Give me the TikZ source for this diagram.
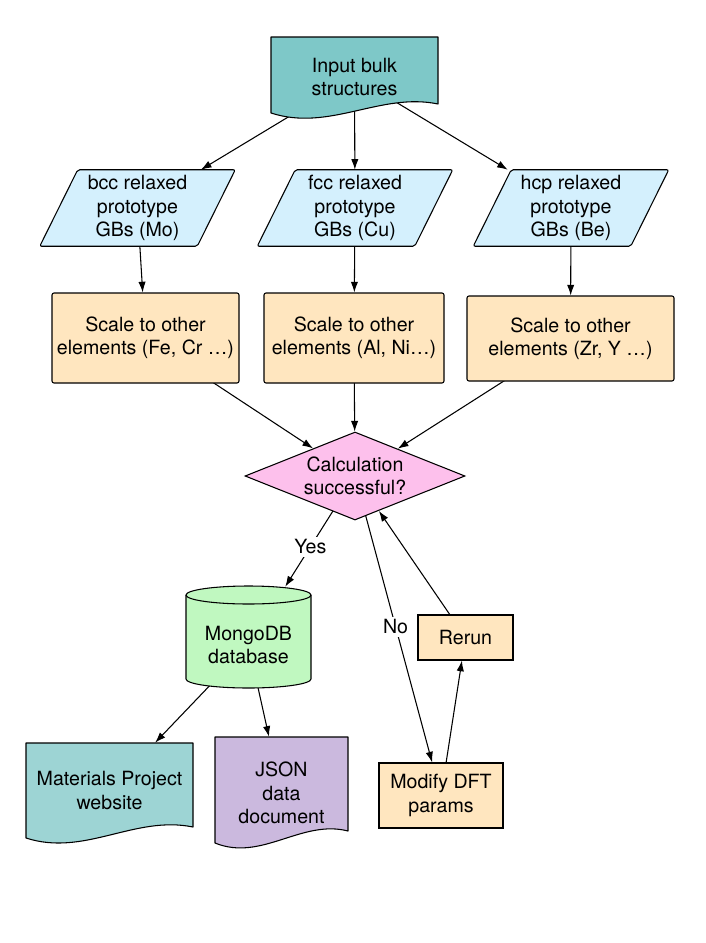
\documentclass[tikz,border=0pt]{standalone}
\usepackage{fontspec}
\setmainfont{TeX Gyre Heros}
\usetikzlibrary{arrows.meta,shapes.geometric}
\pgfdeclarelayer{conn}
\pgfdeclarelayer{shp}
\pgfsetlayers{conn,shp,main}
\definecolor{inpfill}{HTML}{7EC8C8}
\definecolor{parafill}{HTML}{D4F0FD}
\definecolor{procfill}{HTML}{FFE6BF}
\definecolor{decfill}{HTML}{FDC0EC}
\definecolor{dbfill}{HTML}{C0F8C0}
\definecolor{mpfill}{HTML}{9DD4D4}
\definecolor{jsonfill}{HTML}{CBB9DE}
\tikzset{
  txt/.style={font=\fontsize{14.7}{17.4}\selectfont, align=center, inner sep=0pt},
  procbox/.style={txt, rectangle, draw, fill=procfill, line width=0.8pt, rounded corners=1.5pt},
  shapeline/.style={draw, line width=0.8pt, line join=round},
  arr/.style={line width=0.8pt, -{Latex[length=8pt,width=5.5pt]}},
  lbl/.style={txt, fill=white, inner sep=2pt}
}
\begin{document}
\begin{tikzpicture}[x=0.75pt,y=-0.75pt]
\path[use as bounding box] (0,0) rectangle (706,943);
\begin{pgfonlayer}{conn}
\fill[white] (0,0) rectangle (706,943);
\end{pgfonlayer}

% nodes
\node[txt, minimum width=125.25pt, minimum height=59.25pt] (inp) at (354.5,77) {Input bulk\\structures};
\node[txt, minimum width=146.25pt, minimum height=57pt] (bcc) at (137.5,208) {bcc relaxed\\prototype\\GBs (Mo)};
\node[txt, minimum width=146.25pt, minimum height=57pt] (fcc) at (355,208) {fcc relaxed\\prototype\\GBs (Cu)};
\node[txt, minimum width=146.25pt, minimum height=57pt] (hcp) at (571,208) {hcp relaxed\\prototype\\GBs (Be)};
\node[procbox, minimum width=140.25pt, minimum height=67.5pt] (box1) at (145.5,338) {Scale to other\\elements (Fe, Cr …)};
\node[procbox, minimum width=135pt, minimum height=67.5pt] (box2) at (354,338) {Scale to other\\elements (Al, Ni…)};
\node[procbox, minimum width=155.25pt, minimum height=63.75pt] (box3) at (570.5,338.5) {Scale to other\\elements (Zr, Y …)};
\node[txt, diamond, aspect=2.5, draw, fill=decfill, line width=0.8pt, minimum width=165pt, minimum height=66pt] (dia) at (355,476) {Calculation\\successful?};
\node[txt, minimum width=93.75pt, minimum height=87pt] (db) at (248.5,645) {MongoDB\\database};
\node[procbox, rounded corners=0pt, minimum width=71.25pt, minimum height=33.75pt] (rerun) at (465.5,637.5) {Rerun};
\node[procbox, rounded corners=0pt, minimum width=93pt, minimum height=48.75pt] (mod) at (441,795.5) {Modify DFT\\params};
\node[txt, minimum width=125.25pt, minimum height=71.25pt] (mp) at (109.5,790.5) {Materials Project\\website};
\node[txt, minimum width=99.75pt, minimum height=84pt] (json) at (281.5,793) {JSON\\data\\document};

% custom shapes
\begin{pgfonlayer}{shp}
\path[shapeline, fill=inpfill] (271,37) -- (438,37) -- (438,104) .. controls (380.5,92) and (329.5,132) .. (271,113) -- cycle;
\foreach \n in {bcc,fcc,hcp}{
  \path[shapeline, fill=parafill, rounded corners=1.5pt] ([xshift=28.5pt]\n.north west) -- (\n.north east) -- ([xshift=-28.5pt]\n.south east) -- (\n.south west) -- cycle;
}
\path[shapeline, fill=dbfill] (186,595) -- (186,679) arc[start angle=180,end angle=0,x radius=62.5,y radius=9] -- (311,595) arc[start angle=0,end angle=-180,x radius=62.5,y radius=9] -- cycle;
\draw[line width=0.8pt] (186,595) arc[start angle=180,end angle=0,x radius=62.5,y radius=9];
\path[shapeline, fill=mpfill] (26,743) -- (193,743) -- (193,827) .. controls (134.5,815) and (84.5,857) .. (26,838) -- cycle;
\path[shapeline, fill=jsonfill] (215,737) -- (348,737) -- (348,831) .. controls (301.5,819) and (261.5,862) .. (215,843) -- cycle;
\end{pgfonlayer}

% connectors
\begin{pgfonlayer}{conn}
\draw[arr] (inp.center) -- (bcc);
\draw[arr] (inp.center) -- (fcc);
\draw[arr] (inp.center) -- (hcp);
\draw[arr] (bcc.center) -- (box1);
\draw[arr] (fcc.center) -- (box2);
\draw[arr] (hcp.center) -- (box3);
\draw[arr] (box1.center) -- (dia);
\draw[arr] (box2.center) -- (dia);
\draw[arr] (box3.center) -- (dia);
\draw[arr] (dia.center) -- node[lbl, pos=0.64] {Yes} (db);
\draw[arr] (dia.center) -- node[lbl, pos=0.526] {No} (mod);
\draw[arr] (mod.center) -- (rerun);
\draw[arr] (rerun.center) -- (dia);
\draw[arr] (db.center) -- (mp);
\draw[arr] (db.center) -- (json);
\end{pgfonlayer}
\end{tikzpicture}
\end{document}
